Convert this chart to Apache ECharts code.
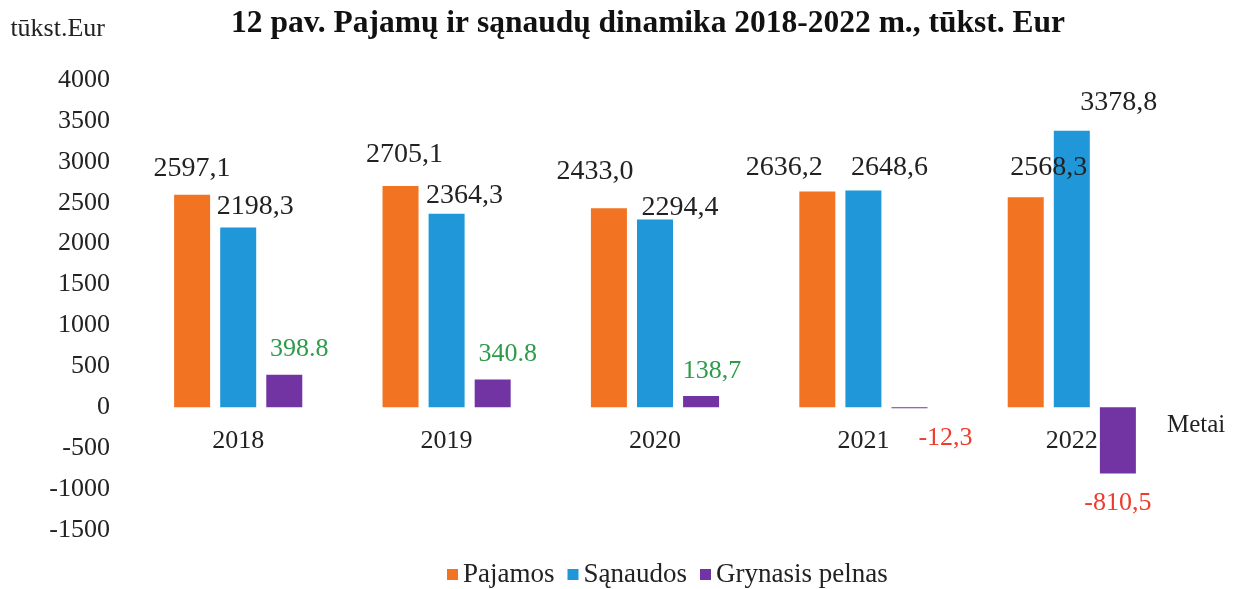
<!DOCTYPE html>
<html>
<head>
<meta charset="utf-8">
<script src="https://cdn.jsdelivr.net/npm/echarts@6/dist/echarts.min.js"></script>
<style>
html,body{margin:0;padding:0;background:#fff;}
#container{width:1242px;height:589px;}
</style>
</head>
<body>
<div id="container"></div>
<script>
var years = ['2018', '2019', '2020', '2021', '2022'];
var pajamos = [2597.1, 2705.1, 2433.0, 2636.2, 2568.3];
var sanaudos = [2198.3, 2364.3, 2294.4, 2648.6, 3378.8];
var pelnas = [398.8, 340.8, 138.7, -12.3, -810.5];
// label text as printed in the original
var pelnasLabels = ['398.8', '340.8', '138,7', '-12,3', '-810,5'];

// label nudges (dx, dy) per bar
var pajShift = [[0, -12], [4, -17], [-14, -23], [-33, -10], [23, -15]];
var sanShift = [[17, -7], [18, -4], [25, 2], [26, -9], [47, -14]];
var pelShift = [[15, -12], [15, -12], [11, -12], [36, 17], [0, 17]];

var font = 'Liberation Serif';

function comma(v) {
	return v.toFixed(1).replace('.', ',');
}

function build(values, shift, texts) {
	var out = [];
	for (var i = 0; i < values.length; i++) {
		out.push({
			value: values[i],
			label: {
				position: values[i] < 0 ? 'bottom' : 'top',
				offset: shift[i],
				color: texts ? (values[i] < 0 ? '#ee3b2c' : '#2f9a4a') : '#222',
				formatter: texts ? texts[i] : comma(values[i])
			}
		});
	}
	return out;
}

var dom = document.getElementById('container');
var myChart = echarts.init(dom);
var option = {
	animation: false,
	textStyle: {
		fontFamily: font
	},
	title: {
		text: '12 pav. Pajamų ir sąnaudų dinamika 2018-2022 m., tūkst. Eur',
		left: 226,
		top: 3,
		textStyle: {
			fontFamily: font,
			fontSize: 31.5,
			fontWeight: 'bold',
			color: '#111'
		}
	},
	legend: {
		top: 556,
		left: 442,
		itemWidth: 11,
		itemHeight: 11,
		itemGap: 13,
		icon: 'rect',
		textStyle: {
			fontFamily: font,
			fontSize: 27,
			color: '#222'
		},
		data: ['Pajamos', 'Sąnaudos', 'Grynasis pelnas']
	},
	grid: {
		left: 134,
		right: 66,
		top: 80,
		bottom: 59
	},
	xAxis: {
		type: 'category',
		data: years,
		name: 'Metai',
		nameLocation: 'end',
		nameGap: -9,
		// sit the axis on the zero line (labels included)
		offset: -123,
		nameTextStyle: {
			fontFamily: font,
			fontSize: 25,
			color: '#222',
			verticalAlign: 'top',
			padding: [6, 0, 0, 0]
		},
		axisLine: { show: false, onZero: false },
		axisTick: { show: false },
		axisLabel: {
			fontFamily: font,
			fontSize: 26,
			color: '#222',
			margin: 21
		}
	},
	yAxis: {
		type: 'value',
		min: -1500,
		max: 4000,
		interval: 500,
		name: 'tūkst.Eur',
		nameGap: 38,
		nameTextStyle: {
			fontFamily: font,
			fontSize: 26,
			color: '#222',
			align: 'right',
			padding: [0, 29, 0, 0]
		},
		splitLine: { show: false },
		axisLine: { show: false },
		axisTick: { show: false },
		axisLabel: {
			fontFamily: font,
			fontSize: 26,
			color: '#222',
			margin: 24,
			formatter: function (v) { return String(v); }
		}
	},
	series: [{
		name: 'Pajamos',
		type: 'bar',
		barWidth: 36,
		barGap: '28%',
		itemStyle: { color: '#f27322' },
		label: { show: true, distance: 0, fontFamily: font, fontSize: 28 },
		data: build(pajamos, pajShift)
	}, {
		name: 'Sąnaudos',
		type: 'bar',
		barWidth: 36,
		barGap: '28%',
		itemStyle: { color: '#1f97d8' },
		label: { show: true, distance: 0, fontFamily: font, fontSize: 28 },
		data: build(sanaudos, sanShift)
	}, {
		name: 'Grynasis pelnas',
		type: 'bar',
		barWidth: 36,
		barGap: '28%',
		itemStyle: { color: '#7134a2' },
		label: { show: true, distance: 0, fontFamily: font, fontSize: 26 },
		data: build(pelnas, pelShift, pelnasLabels)
	}]
};
myChart.setOption(option);
</script>
</body>
</html>
